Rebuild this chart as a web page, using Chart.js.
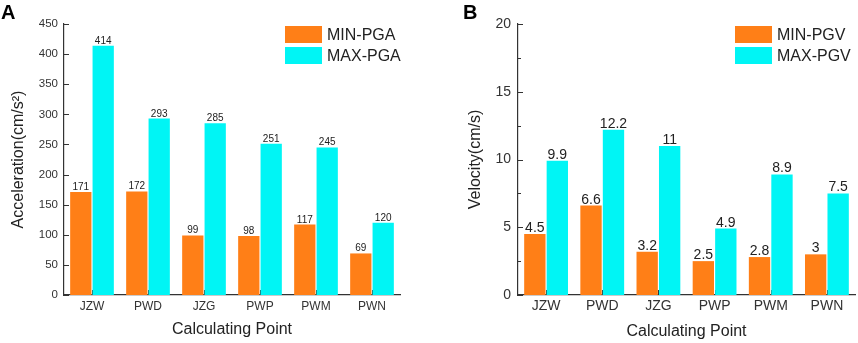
<!DOCTYPE html>
<html><head><meta charset="utf-8">
<script src="https://cdn.jsdelivr.net/npm/chart.js@4"></script>
<style>
html,body{margin:0;padding:0;background:#fff;}
#wrap{position:relative;width:858px;height:343px;overflow:hidden;}
#cA{position:absolute;left:0;top:0;}
#cB{position:absolute;left:430px;top:0;}
</style></head><body>
<div id="wrap"><canvas id="cA" width="430" height="343"></canvas><canvas id="cB" width="428" height="343"></canvas></div>
<script>
const categories = ['JZW','PWD','JZG','PWP','PWM','PWN'];
const minPGA = [171,172,99,98,117,69];
const maxPGA = [414,293,285,251,245,120];
const minPGV = [4.5,6.6,3.2,2.5,2.8,3];
const maxPGV = [9.9,12.2,11,4.9,8.9,7.5];
const pgaAxis = {min:0, max:450, step:50};
const pgvAxis = {min:0, max:20, step:5};

const FONT = "'Liberation Sans', Arial, sans-serif";
const ORANGE = '#FF7F17';
const CYAN = '#00F5F5';
const AXIS = '#333';

function panelPlugin(cfg){
  return {
    id: 'panel' + cfg.letter,
    beforeDatasetsDraw(chart){
      const ctx = chart.ctx, y = chart.scales.y, x = chart.scales.x;
      const ca = chart.chartArea;
      ctx.save();
      ctx.strokeStyle = AXIS; ctx.lineWidth = 1;
      ctx.beginPath();
      const vals = y.ticks.map(t => t.value);
      vals.forEach(v => {
        const py = Math.round(y.getPixelForValue(v)) + 0.5;
        ctx.moveTo(ca.left, py); ctx.lineTo(ca.left + 5, py);
      });
      if (cfg.minor) {
        for (let i = 0; i < vals.length - 1; i++) {
          const py = Math.round(y.getPixelForValue((vals[i] + vals[i+1]) / 2)) + 0.5;
          ctx.moveTo(ca.left, py); ctx.lineTo(ca.left + 3, py);
        }
      }
      categories.forEach((c, i) => {
        const px = Math.round(x.getPixelForValue(i)) + 0.5;
        ctx.moveTo(px, ca.bottom); ctx.lineTo(px, ca.bottom - 5);
      });
      ctx.stroke();
      ctx.restore();
    },
    afterDatasetsDraw(chart){
      const ctx = chart.ctx;
      ctx.save();
      ctx.fillStyle = '#222';
      ctx.font = cfg.labelSize + 'px ' + FONT;
      ctx.textAlign = 'center';
      ctx.textBaseline = 'alphabetic';
      chart.data.datasets.forEach((ds, di) => {
        const meta = chart.getDatasetMeta(di);
        meta.data.forEach((bar, i) => {
          ctx.fillText(String(ds.data[i]), bar.x, bar.y - cfg.labelGap);
        });
      });
      ctx.restore();
    },
    afterDraw(chart){
      const ctx = chart.ctx;
      ctx.save();
      ctx.fillStyle = '#000';
      ctx.font = 'bold 20px ' + FONT;
      ctx.textBaseline = 'alphabetic';
      ctx.textAlign = 'left';
      ctx.fillText(cfg.letter, cfg.letterX, 19);
      chart.data.datasets.forEach((ds, i) => {
        const by = 26 + i * 21;
        ctx.fillStyle = ds.backgroundColor;
        ctx.fillRect(cfg.legX, by, 37, 17);
        ctx.fillStyle = '#222';
        ctx.font = '16px ' + FONT;
        ctx.textBaseline = 'middle';
        ctx.fillText(ds.label, cfg.legX + 42, by + 9.5);
      });
      ctx.restore();
    }
  };
}

function makeChart(id, o){
  return new Chart(document.getElementById(id), {
    type: 'bar',
    data: {
      labels: categories,
      datasets: [
        {label: o.names[0], data: o.minData, backgroundColor: ORANGE, borderWidth: 0, categoryPercentage: 0.8, barPercentage: 0.95},
        {label: o.names[1], data: o.maxData, backgroundColor: CYAN, borderWidth: 0, categoryPercentage: 0.8, barPercentage: 0.95}
      ]
    },
    options: {
      responsive: false,
      animation: false,
      devicePixelRatio: 1,
      layout: {padding: {top: 24, right: o.padRight, left: 0, bottom: 0}},
      plugins: {legend: {display: false}, tooltip: {enabled: false}},
      scales: {
        x: {
          grid: {display: false, drawTicks: false},
          border: {display: true, color: AXIS, width: 1.2},
          ticks: {color: '#333', font: {family: FONT, size: o.xTickSize}, padding: o.xTickPad, maxRotation: 0},
          title: {display: true, text: 'Calculating Point', color: '#222', font: {family: FONT, size: 16}, padding: {top: 0, bottom: o.xTitlePad}},
          afterFit(s){ s.height = 48; }
        },
        y: {
          min: o.axis.min, max: o.axis.max,
          grid: {display: false, drawTicks: false},
          border: {display: true, color: AXIS, width: 1.2},
          ticks: {stepSize: o.axis.step, color: '#333', font: {family: FONT, size: o.yTickSize}, padding: o.yTickPad},
          title: {display: true, text: o.yTitle, color: '#222', font: {family: FONT, size: 16}, padding: {top: o.yTitlePad, bottom: 0}},
          afterFit(s){ s.width = o.yWidth; }
        }
      }
    },
    plugins: [panelPlugin(o.panel)]
  });
}

makeChart('cA', {
  names: ['MIN-PGA', 'MAX-PGA'], minData: minPGA, maxData: maxPGA, axis: pgaAxis,
  yTitle: 'Acceleration(cm/s\u00B2)', padRight: 30, yWidth: 64,
  xTickSize: 12, yTickSize: 11.5, xTickPad: 4, yTickPad: 6, xTitlePad: 4, yTitlePad: 9,
  panel: {letter: 'A', letterX: 1, legX: 285, labelSize: 10, labelGap: 2, minor: false}
});
makeChart('cB', {
  names: ['MIN-PGV', 'MAX-PGV'], minData: minPGV, maxData: maxPGV, axis: pgvAxis,
  yTitle: 'Velocity(cm/s)', padRight: 3, yWidth: 88,
  xTickSize: 14, yTickSize: 14, xTickPad: 3, yTickPad: 7, xTitlePad: 2, yTitlePad: 36,
  panel: {letter: 'B', letterX: 33, legX: 305, labelSize: 14, labelGap: 2, minor: true}
});
</script>
</body></html>
